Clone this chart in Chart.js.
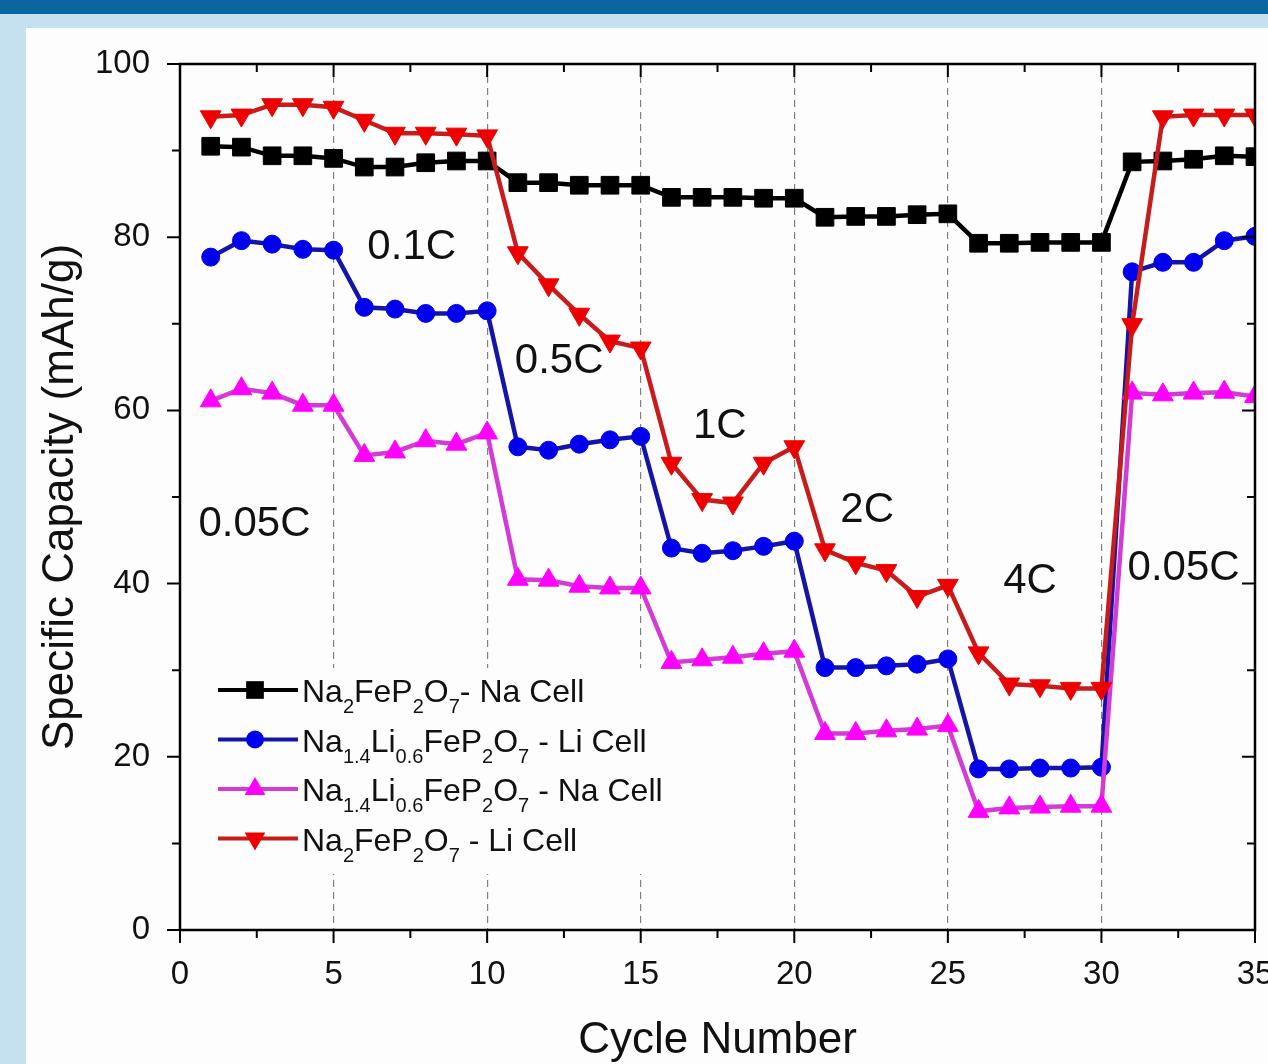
<!doctype html>
<html lang="en">
<head>
<meta charset="UTF-8" />
<title>Rate capability - Na2FeP2O7 / Na1.4Li0.6FeP2O7</title>
<script src="https://cdn.jsdelivr.net/npm/chart.js@4"></script>
<style>
  body { margin: 0; width: 1268px; height: 1064px; overflow: hidden; position: relative;
         background: #c5e1ef; font-family: "Liberation Sans", Arial, sans-serif; }
  #bar { position: absolute; left: 0; top: 0; width: 1268px; height: 14px; background: #0b66a0; }
  #panel { position: absolute; left: 26px; top: 28px; width: 1242px; height: 1036px; background: #fdfdfd; }
  #wrap { position: absolute; left: 0; top: 0; width: 1300px; height: 1100px; }
</style>
</head>
<body>
<div id="bar"></div>
<div id="panel"></div>
<div id="wrap"><canvas id="rate" width="1300" height="1100"></canvas></div>

<script>
// cycle numbers
const cycles = [1, 2, 3, 4, 5, 6, 7, 8, 9, 10, 11, 12, 13, 14, 15, 16, 17, 18, 19, 20,
  21, 22, 23, 24, 25, 26, 27, 28, 29, 30, 31, 32, 33, 34, 35];

// specific capacity, mAh/g
const naFePNa = [90.5, 90.4, 89.4, 89.4, 89.1, 88.1, 88.1, 88.6, 88.8, 88.8,
  86.3, 86.3, 86.0, 86.0, 86.0, 84.6, 84.6, 84.6, 84.5, 84.5,
  82.3, 82.4, 82.4, 82.6, 82.7, 79.3, 79.3, 79.4, 79.4, 79.4,
  88.7, 88.8, 89.0, 89.4, 89.3];
const naLiFePLi = [77.7, 79.6, 79.2, 78.6, 78.5, 71.9, 71.7, 71.2, 71.2, 71.5,
  55.8, 55.4, 56.1, 56.6, 57.0, 44.1, 43.5, 43.8, 44.3, 44.9,
  30.3, 30.3, 30.5, 30.7, 31.3, 18.6, 18.6, 18.7, 18.7, 18.8,
  76.0, 77.1, 77.1, 79.6, 80.1];
const naLiFePNa = [61.1, 62.5, 62.0, 60.6, 60.6, 54.8, 55.2, 56.5, 56.1, 57.4,
  40.5, 40.4, 39.7, 39.5, 39.5, 30.9, 31.2, 31.5, 31.9, 32.2,
  22.7, 22.7, 23.0, 23.2, 23.6, 13.7, 14.1, 14.2, 14.3, 14.3,
  62.0, 61.8, 62.0, 62.1, 61.6];
const naFePLi = [93.9, 94.1, 95.3, 95.3, 95.0, 93.5, 92.0, 92.0, 91.9, 91.7,
  78.2, 74.5, 71.1, 68.0, 67.2, 53.9, 49.7, 49.3, 53.9, 55.8,
  43.9, 42.4, 41.5, 38.5, 39.8, 32.0, 28.4, 28.2, 27.9, 27.9,
  69.9, 93.9, 94.1, 94.1, 94.1];

const seriesNames = ["Na2FeP2O7- Na Cell", "Na1.4Li0.6FeP2O7 - Li Cell",
  "Na1.4Li0.6FeP2O7 - Na Cell", "Na2FeP2O7 - Li Cell"];
const rateLabels = ["0.05C", "0.1C", "0.5C", "1C", "2C", "4C", "0.05C"];

const xTicks = [0, 5, 10, 15, 20, 25, 30, 35];
const yTicks = [0, 20, 40, 60, 80, 100];

const FONT = "'Liberation Sans', Arial, sans-serif";
const INK = "#111";

function pts(vals) {
  return cycles.map((c, i) => ({ x: c, y: vals[i] }));
}

// white box behind the legend, under the data
const legendBox = {
  id: "legendBox",
  beforeDatasetsDraw(chart) {
    const { ctx, chartArea: a } = chart;
    ctx.save();
    ctx.fillStyle = "#fdfdfd";
    ctx.fillRect(a.left + 28, a.top + 604, 470, 206);
    ctx.restore();
  }
};

// draws frame, ticks, rate labels and the legend (with subscripts)
const decor = {
  id: "decor",
  afterDatasetsDraw(chart, args, opts) {
    const { ctx, chartArea: a, scales } = chart;
    const xs = scales.x, ys = scales.y;
    ctx.save();

    // frame
    ctx.strokeStyle = "#000";
    ctx.lineWidth = 2.5;
    ctx.strokeRect(a.left, a.top, a.right - a.left, a.bottom - a.top);

    // ticks
    ctx.lineWidth = 2;
    ctx.beginPath();
    for (let v = 0; v <= 35; v += 2.5) {
      const x = xs.getPixelForValue(v);
      const len = v % 5 === 0 ? 13 : 8;
      ctx.moveTo(x, a.bottom); ctx.lineTo(x, a.bottom + len);
      ctx.moveTo(x, a.top); ctx.lineTo(x, a.top + len);
    }
    for (let v = 0; v <= 100; v += 10) {
      const y = ys.getPixelForValue(v);
      const len = v % 20 === 0 ? 13 : 8;
      ctx.moveTo(a.left, y); ctx.lineTo(a.left - len, y);
      ctx.moveTo(a.right, y); ctx.lineTo(a.right - len, y);
    }
    ctx.stroke();

    // rate labels
    ctx.fillStyle = INK;
    ctx.font = "42px " + FONT;
    ctx.textAlign = "left";
    ctx.textBaseline = "middle";
    rateLabels.forEach((t, i) => {
      ctx.fillText(t, xs.getPixelForValue(opts.labelX[i]), ys.getPixelForValue(opts.labelY[i]));
    });

    // legend
    const lx = a.left + 38, rowY = a.top + 626, gap = 49.5;
    chart.data.datasets.forEach((ds, i) => {
      const y = rowY + i * gap;
      ctx.strokeStyle = ds.borderColor;
      ctx.lineWidth = 4;
      ctx.beginPath();
      ctx.moveTo(lx, y); ctx.lineTo(lx + 80, y);
      ctx.stroke();
      marker(ctx, ds, lx + 37, y);

      ctx.fillStyle = INK;
      ctx.textBaseline = "alphabetic";
      let tx = lx + 84;
      seriesNames[i].split(/(\d+(?:\.\d+)?)/).forEach((part, k) => {
        if (!part) return;
        const sub = k % 2 === 1;
        ctx.font = (sub ? "20px " : "32px ") + FONT;
        ctx.fillText(part, tx, y + (sub ? 23 : 12));
        tx += ctx.measureText(part).width;
      });
    });
    ctx.restore();
  }
};

function marker(ctx, ds, x, y) {
  const r = ds.pointRadius;
  ctx.fillStyle = ds.pointBackgroundColor;
  ctx.beginPath();
  if (ds.pointStyle === "rect") {
    const s = r * Math.SQRT1_2;
    ctx.rect(x - s, y - s, 2 * s, 2 * s);
  } else if (ds.pointStyle === "circle") {
    ctx.arc(x, y, r, 0, Math.PI * 2);
  } else {
    const d = ds.pointRotation === 180 ? -1 : 1;
    ctx.moveTo(x, y - d * r);
    ctx.lineTo(x + r * 0.866, y + d * r * 0.5);
    ctx.lineTo(x - r * 0.866, y + d * r * 0.5);
    ctx.closePath();
  }
  ctx.fill();
}

new Chart(document.getElementById("rate"), {
  type: "line",
  data: {
    datasets: [
      {
        label: seriesNames[0], data: pts(naFePNa), order: 4,
        borderColor: "#000", pointBackgroundColor: "#000", pointBorderColor: "#000",
        pointStyle: "rect", pointRadius: 12.5
      },
      {
        label: seriesNames[1], data: pts(naLiFePLi), order: 3,
        borderColor: "#1414a6", pointBackgroundColor: "#0000ee", pointBorderColor: "#0000ee",
        pointStyle: "circle", pointRadius: 9
      },
      {
        label: seriesNames[2], data: pts(naLiFePNa), order: 2,
        borderColor: "#d43ad4", pointBackgroundColor: "#ff00ff", pointBorderColor: "#ff00ff",
        pointStyle: "triangle", pointRadius: 12
      },
      {
        label: seriesNames[3], data: pts(naFePLi), order: 1,
        borderColor: "#c81c1c", pointBackgroundColor: "#ee0000", pointBorderColor: "#ee0000",
        pointStyle: "triangle", pointRotation: 180, pointRadius: 12
      }
    ]
  },
  options: {
    responsive: false,
    animation: false,
    devicePixelRatio: 1,
    layout: { padding: { left: 30, top: 64, right: 45, bottom: 29 } },
    elements: {
      line: { borderWidth: 4.5, tension: 0 },
      point: { borderWidth: 1, hoverRadius: 12 }
    },
    plugins: {
      legend: { display: false },
      tooltip: { enabled: false },
      decor: {
        labelX: [0.6, 6.1, 10.9, 16.7, 21.5, 26.8, 30.85],
        labelY: [46.8, 78.8, 65.6, 58.2, 48.4, 40.2, 41.7]
      }
    },
    scales: {
      x: {
        type: "linear", min: 0, max: 35,
        afterBuildTicks: (s) => { s.ticks = xTicks.map((v) => ({ value: v })); },
        afterFit: (s) => { s.height = 141; s.paddingLeft = 0; s.paddingRight = 0; },
        ticks: { font: { family: FONT, size: 33 }, color: INK, padding: 25, maxRotation: 0 },
        grid: {
          drawTicks: false, lineWidth: 1.2,
          color: (c) => (c.tick && (c.tick.value === 0 || c.tick.value === 35)) ? "rgba(0,0,0,0)" : "#808080"
        },
        border: { display: false, dash: [7, 5] },
        title: { display: true, text: "Cycle Number", color: INK,
                 font: { family: FONT, size: 44 }, padding: { top: 0, bottom: 4 } }
      },
      y: {
        min: 0, max: 100,
        afterBuildTicks: (s) => { s.ticks = yTicks.map((v) => ({ value: v })); },
        afterFit: (s) => { s.width = 150; s.paddingTop = 0; s.paddingBottom = 0; },
        ticks: { font: { family: FONT, size: 33 }, color: INK, padding: 30 },
        grid: { display: false, drawTicks: false },
        border: { display: false },
        title: { display: true, text: "Specific Capacity (mAh/g)", color: INK,
                 font: { family: FONT, size: 44 }, padding: { top: 4, bottom: 0 } }
      }
    }
  },
  plugins: [legendBox, decor]
});
</script>
</body>
</html>
